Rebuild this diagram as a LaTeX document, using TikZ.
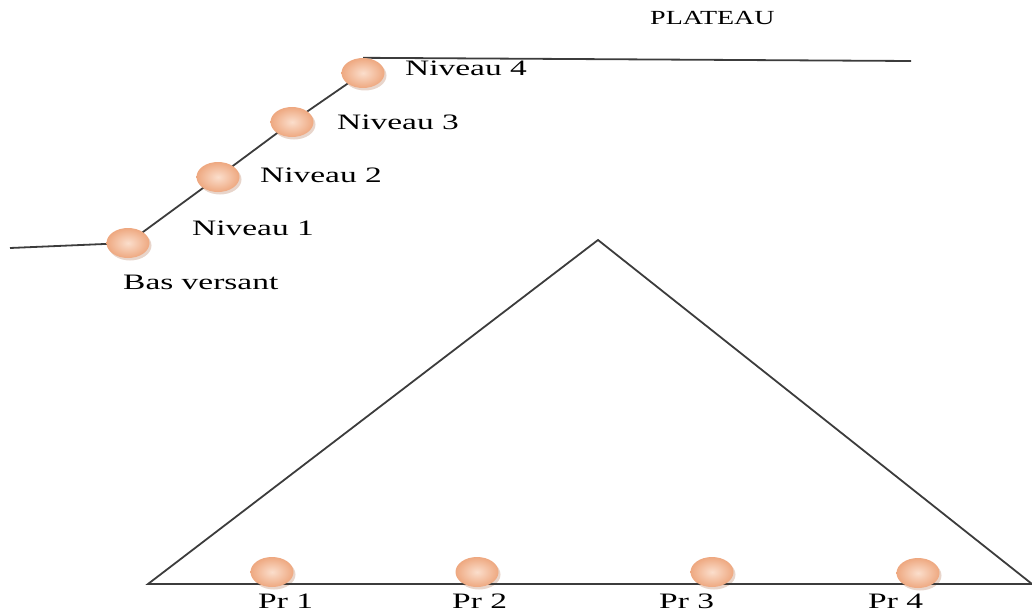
\documentclass[tikz,border=0pt]{standalone}
\usepackage{fontspec}
\setmainfont{Liberation Serif}
\usetikzlibrary{backgrounds,shapes.geometric}
\definecolor{lineg}{RGB}{60,60,60}
\definecolor{peachin}{RGB}{251,222,204}
\definecolor{peachout}{RGB}{238,168,128}
\definecolor{shadowc}{RGB}{190,135,105}
\newcommand{\sx}[1]{\scalebox{1.52}[1]{#1}}
\tikzset{
  ball/.style={ellipse, minimum width=43pt, minimum height=30pt, inner sep=0pt,
    inner color=peachin, outer color=peachout},
  ballshadow/.style={ellipse, minimum width=43pt, minimum height=30pt, inner sep=0pt,
    fill=shadowc, opacity=0.35},
  lbl/.style={font=\fontsize{22}{22}\selectfont, anchor=base west, inner sep=0pt, text=black},
  ln/.style={draw=lineg, line width=1.8pt}
}
\begin{document}
\begin{tikzpicture}[x=1pt,y=-1pt]
\useasboundingbox (0,0) rectangle (1032,615);
\foreach \x/\y in {128/243, 218/177, 292/122, 363/73,
  272/572, 477/572, 712/572, 918/573}{
  \node[ballshadow] at (\x+2,\y+2.5) {};
}
\node[ball] (bas) at (128,243) {};
\node[ball] (n2) at (218,177) {};
\node[ball] (n3) at (292,122) {};
\node[ball] (n4) at (363,73) {};
\coordinate (left) at (10,248);
\coordinate (platend) at (911,61);
\begin{scope}[on background layer]
  \draw[ln] (left) -- (bas.center);
  \draw[ln] (bas.center) -- (n2.center) -- (n3.center) -- (n4.center);
  \draw[ln] (n4.north) -- (platend);
\end{scope}
\coordinate (apex) at (598,240);
\coordinate (tl) at (148,584);
\coordinate (tr) at (1032,584);
\draw[ln, line join=miter] (tl) -- (apex) -- (tr) -- cycle;
\node[ball] (p1) at (272,572) {};
\node[ball] (p2) at (477,572) {};
\node[ball] (p3) at (712,572) {};
\node[ball] (p4) at (918,573) {};
\node[lbl, font=\fontsize{20}{20}\selectfont] (plateau) at (650,25) {\scalebox{1.4}[1]{PLATEAU}};
\node[lbl] (ln4) at (405,76) {\sx{Niveau 4}};
\node[lbl] (ln3) at (337,129) {\sx{Niveau 3}};
\node[lbl] (ln2) at (260,182) {\sx{Niveau 2}};
\node[lbl] (ln1) at (192,235) {\sx{Niveau 1}};
\node[lbl] (lbas) at (123,289) {\sx{Bas versant}};
\node[lbl] (lp1) at (258,608) {\sx{Pr 1}};
\node[lbl] (lp2) at (452,608) {\sx{Pr 2}};
\node[lbl] (lp3) at (659,608) {\sx{Pr 3}};
\node[lbl] (lp4) at (868,608) {\sx{Pr 4}};
\end{tikzpicture}
\end{document}
